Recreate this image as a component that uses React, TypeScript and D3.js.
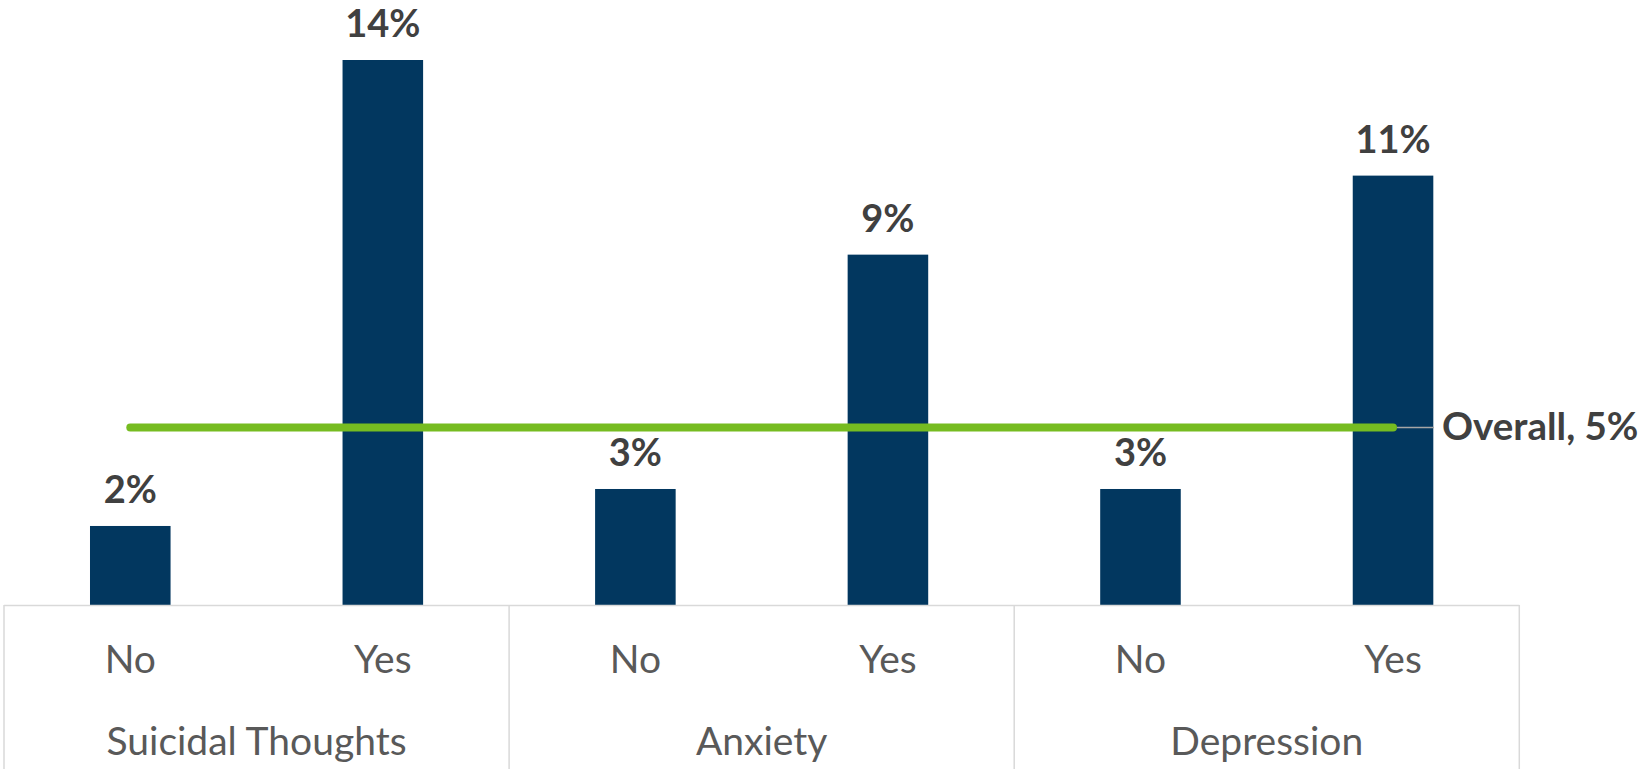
import React from "react";
import * as d3 from "d3";

const groups = ["Suicidal Thoughts", "Anxiety", "Depression"];
const answers = ["No", "Yes"];
const values = [0.0203, 0.14, 0.0298, 0.09, 0.0298, 0.1103];
const overallValue = 0.0456;
const overallName = "Overall";

const W = 1647;
const H = 769;
const FONT = "Lato, 'Open Sans', sans-serif";

export default function App() {
  const cats = groups.flatMap((g) => answers.map((a) => `${g}|${a}`));
  const x = d3.scaleBand<string>().domain(cats).range([4, 1519.3]).paddingInner(0.681).paddingOuter(0.3405);
  const y = d3.scaleLinear().domain([0, 0.14]).range([605, 60]);
  const fmt = d3.format(".0%");
  const step = x.step();
  const left = x.range()[0];
  const right = x.range()[1];
  const groupW = step * answers.length;
  const boundaries = d3.range(groups.length + 1).map((i) => left + i * groupW);
  const xFirst = (x(cats[0]) as number) + x.bandwidth() / 2;
  const xLast = (x(cats[cats.length - 1]) as number) + x.bandwidth() / 2;
  const yO = y(overallValue);
  const axisColor = "#D9D9D9";

  return (
    <svg width={W} height={H} style={{ position: "absolute", left: 0, top: 0 }}>
      <rect x={0} y={0} width={W} height={H} fill="#fff" />
      {cats.map((c, i) => (
        <rect key={c} x={x(c)} y={y(values[i])} width={x.bandwidth()} height={y(0) - y(values[i])} fill="#02375F" />
      ))}
      <line x1={left} x2={right} y1={y(0) + 0.5} y2={y(0) + 0.5} stroke={axisColor} strokeWidth={1.5} />
      {boundaries.map((bx, i) => (
        <line key={i} x1={bx} x2={bx} y1={y(0)} y2={H} stroke={axisColor} strokeWidth={1.5} />
      ))}
      {cats.map((c, i) => (
        <text key={c} x={(x(c) as number) + x.bandwidth() / 2} y={y(values[i]) - 23} textAnchor="middle" fontFamily={FONT} fontWeight="bold" fontSize={38} fill="#404040">
          {fmt(values[i])}
        </text>
      ))}
      <line x1={xFirst} x2={xLast} y1={yO} y2={yO} stroke="#76BC21" strokeWidth={8} strokeLinecap="round" />
      <line x1={xLast + 4} x2={xLast + 41} y1={yO} y2={yO} stroke="#A6A6A6" strokeWidth={1.5} />
      <text x={xLast + 49} y={yO + 13} fontFamily={FONT} fontWeight="bold" fontSize={38.5} fill="#404040">
        {`${overallName}, ${fmt(overallValue)}`}
      </text>
      {cats.map((c) => (
        <text key={c} x={(x(c) as number) + x.bandwidth() / 2} y={673} textAnchor="middle" fontFamily={FONT} fontSize={39} fill="#595959">
          {c.split("|")[1]}
        </text>
      ))}
      {groups.map((g, i) => (
        <text key={g} x={boundaries[i] + groupW / 2} y={755} textAnchor="middle" fontFamily={FONT} fontSize={39} fill="#595959">
          {g}
        </text>
      ))}
    </svg>
  );
}
